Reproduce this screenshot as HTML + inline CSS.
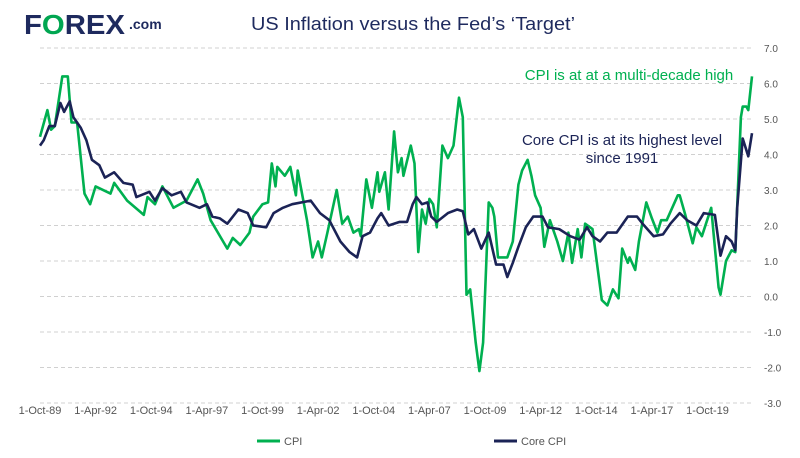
<!DOCTYPE html>
<html><head><meta charset="utf-8"><style>
body{margin:0;background:#fff;}
svg{display:block;font-family:"Liberation Sans",Arial,sans-serif;}
</style></head><body>
<svg id="chart" width="800" height="458" viewBox="0 0 800 458">
<g>
<text x="24" y="34" font-size="28" font-weight="bold" fill="#1e2a5e" textLength="101" lengthAdjust="spacingAndGlyphs">F<tspan fill="#00a651">O</tspan>REX</text>
<text x="129" y="29" font-size="14" font-weight="bold" fill="#1e2a5e">.com</text>
</g>
<text x="251" y="30" font-size="18" fill="#1e2a5e" textLength="324" lengthAdjust="spacingAndGlyphs">US Inflation versus the Fed’s ‘Target’</text>
<g id="grid"></g><g id="yticks"></g><g id="xticks"></g><g id="series"></g>
<text x="629" y="80" text-anchor="middle" font-size="15" fill="#00b050">CPI is at at a multi-decade high</text>
<text x="622" y="145" text-anchor="middle" font-size="15" fill="#1b2356">Core CPI is at its highest level</text>
<text x="622" y="163" text-anchor="middle" font-size="15" fill="#1b2356">since 1991</text>
<g>
<line x1="257" y1="441" x2="280" y2="441" stroke="#00b050" stroke-width="3"/>
<text x="284" y="445" font-size="11" fill="#555">CPI</text>
<line x1="494" y1="441" x2="517" y2="441" stroke="#1b2356" stroke-width="3"/>
<text x="521" y="445" font-size="11" fill="#555">Core CPI</text>
</g>
</svg>
<script>
const cpiMonths=[0,4,6,8,12,15,17,20,24,27,30,38,40,47,56,58,62,66,72,79,85,88,92,101,104,108,113,115,120,123,125,127,128,132,135,138,139,144,147,150,152,155,160,163,166,169,172,173,176,179,182,183,186,188,191,193,195,196,200,202,204,206,208,210,212,214,217,220,223,226,228,230,232,235,237,239,242,244,245,247,252,255,258,260,263,265,267,270,272,275,279,282,285,287,290,292,294,298,303,306,309,312,314,317,318,321,323,327,330,333,335,338,344,345,348,352,354,357,362,366,367,370,373,375,378,379,381,382,384];
const cpiValues=[4.5,5.25,4.7,4.8,6.2,6.2,4.9,4.9,2.9,2.6,3.1,2.9,3.2,2.7,2.3,2.8,2.6,3.1,2.5,2.7,3.3,2.9,2.15,1.35,1.65,1.45,1.8,2.25,2.6,2.65,3.75,3.1,3.65,3.4,3.65,2.85,3.55,2.15,1.1,1.55,1.1,1.8,3.0,2.05,2.25,1.8,1.9,1.7,3.3,2.5,3.5,2.95,3.5,2.45,4.65,3.5,3.9,3.4,4.25,3.75,1.25,2.45,2.05,2.75,2.6,1.95,4.25,3.9,4.25,5.6,5.05,0.05,0.2,-1.3,-2.1,-1.3,2.65,2.5,2.25,1.1,1.1,1.55,3.15,3.55,3.85,3.4,2.85,2.5,1.4,2.15,1.55,1.0,1.8,0.95,1.9,1.1,2.05,1.9,-0.1,-0.25,0.2,-0.05,1.35,0.95,1.1,0.75,1.55,2.65,2.2,1.8,2.15,2.15,2.85,2.85,2.3,1.5,1.95,1.7,2.5,0.25,0.05,1.0,1.3,1.25,5.05,5.35,5.35,5.25,6.2];
const coreMonths=[0,2,5,8,11,13,16,18,22,25,28,32,35,40,45,50,52,59,62,66,71,76,79,86,90,93,97,101,107,112,115,122,126,131,136,146,151,156,162,167,171,174,178,182,184,188,194,198,201,203,206,209,211,214,220,225,228,231,234,238,242,246,250,252,255,258,262,266,271,274,280,286,291,295,298,302,306,311,317,322,325,331,336,340,345,349,354,358,364,367,370,373,375,376,379,382,384];
const coreValues=[4.25,4.4,4.8,4.8,5.45,5.2,5.5,5.05,4.75,4.4,3.85,3.7,3.35,3.5,3.2,3.15,2.8,2.95,2.7,3.05,2.85,2.95,2.65,2.5,2.6,2.25,2.2,2.05,2.45,2.35,2.0,1.95,2.35,2.5,2.6,2.7,2.35,2.15,1.55,1.25,1.1,1.7,1.8,2.2,2.35,2.0,2.1,2.1,2.6,2.8,2.6,2.65,2.25,2.1,2.35,2.45,2.4,1.75,1.9,1.35,1.8,0.9,0.9,0.55,0.95,1.4,1.95,2.25,2.25,1.95,1.9,1.7,1.6,1.95,1.7,1.55,1.8,1.8,2.25,2.25,2.05,1.7,1.75,2.05,2.35,2.15,2.0,2.35,2.3,1.15,1.7,1.55,1.3,2.5,4.45,3.95,4.6];
const yTicks=[7,6,5,4,3,2,1,0,-1,-2,-3];
const xTickLabels=["1-Oct-89","1-Apr-92","1-Oct-94","1-Apr-97","1-Oct-99","1-Apr-02","1-Oct-04","1-Apr-07","1-Oct-09","1-Apr-12","1-Oct-14","1-Apr-17","1-Oct-19"];
const xTickMonths=[0,30,60,90,120,150,180,210,240,270,300,330,360];

const NS="http://www.w3.org/2000/svg";
const X0=40,X1=752,M=384;
function xs(m){return X0+(X1-X0)*m/M;}
function ys(v){return 296.5-35.5*v;}
function mk(t,a,p){const e=document.createElementNS(NS,t);for(const k in a)e.setAttribute(k,a[k]);p.appendChild(e);return e;}
const grid=document.getElementById('grid'),yt=document.getElementById('yticks'),xt=document.getElementById('xticks'),ser=document.getElementById('series');
yTicks.forEach(v=>{
  const l=mk('line',{x1:X0,x2:X1,y1:ys(v),y2:ys(v),stroke:'#d0d0d0','stroke-width':1,'stroke-dasharray':'4,3'},grid);
  
  
  const t=mk('text',{x:764,y:ys(v)+4,'font-size':10,fill:'#555'},yt);
  t.textContent=v.toFixed(1);
  
  
});
xTickLabels.forEach((s,i)=>{
  const t=mk('text',{x:xs(xTickMonths[i]),y:414,'font-size':11,fill:'#555','text-anchor':'middle'},xt);
  t.textContent=s;
  
  
});
function line(ms,vs,col,name){
  const d=ms.map((m,i)=>(i?'L':'M')+xs(m).toFixed(1)+','+ys(vs[i]).toFixed(1)).join('');
  const p=mk('path',{d:d,fill:'none',stroke:col,'stroke-width':2.6,'stroke-linejoin':'round'},ser);
  
  
}
line(cpiMonths,cpiValues,'#00b050','cpi-line');
line(coreMonths,coreValues,'#1b2356','core-cpi-line');
</script>
</body></html>
